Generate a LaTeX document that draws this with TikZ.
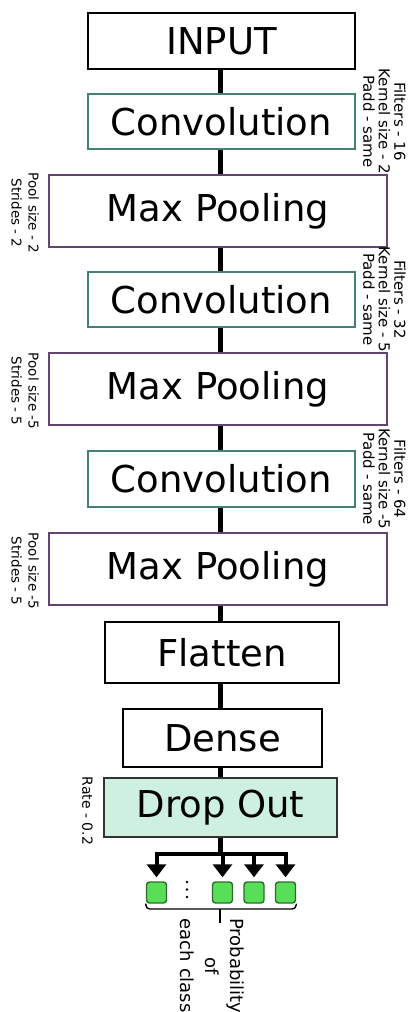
\documentclass[tikz,border=0pt]{standalone}
\usepackage{fontspec}
\setmainfont{DejaVu Sans}
\usetikzlibrary{arrows.meta}

\definecolor{convedge}{RGB}{68,128,118}
\definecolor{pooledge}{RGB}{96,70,112}
\definecolor{dropfill}{RGB}{206,240,224}
\definecolor{outfill}{RGB}{88,222,88}
\definecolor{outedge}{RGB}{40,110,40}

\tikzset{
  layer/.style={draw=black, line width=1.8pt, fill=white, inner sep=0pt,
    font=\fontsize{37}{40}\selectfont},
  inputbox/.style={layer, minimum width=267pt, minimum height=56pt, line width=2pt},
  convbox/.style={layer, draw=convedge, minimum width=267pt, minimum height=55pt},
  poolbox/.style={layer, draw=pooledge, minimum width=338pt, minimum height=72pt},
  dropbox/.style={layer, draw=black!80, fill=dropfill, line width=2pt},
  link/.style={line width=5pt, black},
  outlink/.style={line width=4pt, black, -{Triangle[width=19pt,length=13pt]}, shorten >=4pt},
  outcell/.style={draw=outedge, fill=outfill, line width=1.4pt, rounded corners=3pt,
    minimum width=20pt, minimum height=21pt, inner sep=0pt},
  convnote/.style={rotate=-90, anchor=north, align=center, inner sep=0pt,
    font=\fontsize{15}{15.5}\selectfont},
  poolnote/.style={rotate=-90, anchor=north, align=center, inner sep=0pt,
    font=\fontsize{13.5}{17}\selectfont},
  brace/.style={line width=1.4pt, black, rounded corners=4pt},
}

\begin{document}
\begin{tikzpicture}[x=1pt, y=-1pt]
\useasboundingbox (0,0) rectangle (409,1012);

\coordinate (spine) at (220,0);

% layer stack
\node[inputbox] (inp) at (221.5,41) {INPUT};
\node[convbox] (c1) at (221.5,121.5) {Convolution};
\node[poolbox] (p1) at (218,211) {Max Pooling};
\node[convbox] (c2) at (221.5,299.5) {Convolution};
\node[poolbox] (p2) at (218,389) {Max Pooling};
\node[convbox, minimum height=56pt] (c3) at (221.5,479) {Convolution};
\node[poolbox] (p3) at (218,569) {Max Pooling};
\node[layer, minimum width=234pt, minimum height=61pt] (fl) at (222,652.5) {Flatten};
\node[layer, minimum width=199pt, minimum height=58pt] (de) at (222.5,738) {Dense};
\node[dropbox, minimum width=233pt, minimum height=59pt] (dr) at (220.5,807.5) {Drop Out};

% links between layers
\foreach \a/\b in {inp/c1, c1/p1, p1/c2, c2/p2, p2/c3, c3/p3, p3/fl, fl/de, de/dr}
  \draw[link] (\a.south -| spine) -- (\b.north -| spine);

% layer parameters
\node[convnote] (n1) at (406,121.5) {Filters - 16\\Kernel size - 2\\Padd - same};
\node[convnote] (n2) at (406,299.5) {Filters - 32\\Kernel size - 5\\Padd - same};
\node[convnote] (n3) at (406,479) {Filters - 64\\Kernel size -5\\Padd - same};
\node[poolnote] (m1) at (39,213) {Pool size - 2\\Strides - 2};
\node[poolnote] (m2) at (39,391) {Pool size -5\\Strides - 5};
\node[poolnote] (m3) at (39,571) {Pool size -5\\Strides - 5};
\node[rotate=-90, anchor=north, inner sep=0pt, font=\fontsize{14}{15}\selectfont]
  (rt) at (93,811) {Rate - 0.2};

% output cells
\node[outcell] (o1) at (156.5,892.5) {};
\node[outcell] (o2) at (222.5,892.5) {};
\node[outcell] (o3) at (254,892.5) {};
\node[outcell] (o4) at (285.5,892.5) {};
\foreach \yy in {882,889.5,897}
  \fill (187,\yy) circle (1.3pt);

% fan-out to the output cells
\coordinate (bar) at (220,854);
\draw[link] (dr.south -| spine) -- (bar);
\draw[link, line width=4pt, line cap=rect] (o1.north |- bar) -- (o4.north |- bar);
\foreach \o in {o1,o2,o3,o4}
  \draw[outlink] (\o.north |- bar) -- (\o.north);

% bracket and caption
\coordinate (brc) at (220,909);
\draw[brace] (o1.south west) |- (brc) -| (o4.south east);
\draw[line width=1.4pt] (brc) -- ++(0,14);
\node[rotate=-90, anchor=west, align=center, inner sep=0pt,
  font=\fontsize{18}{25}\selectfont] (cap) at (212,918) {Probability\\of\\each class};
\end{tikzpicture}
\end{document}
